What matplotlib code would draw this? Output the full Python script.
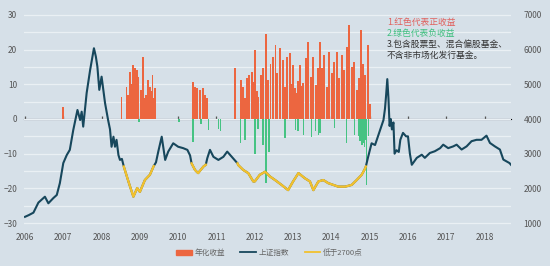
import numpy as np
import matplotlib
matplotlib.use("Agg")
import matplotlib.pyplot as plt
from matplotlib.patches import Patch
from matplotlib.lines import Line2D

plt.rcParams['font.family'] = ['Noto Sans CJK SC', 'DejaVu Sans']

# Shanghai composite index (date as decimal year, level)
idx_t = [2006.0, 2006.1, 2006.22, 2006.35, 2006.43, 2006.52, 2006.61, 2006.74, 2006.83,
         2006.91, 2007.0, 2007.09, 2007.17, 2007.26, 2007.37, 2007.44, 2007.48, 2007.52,
         2007.61, 2007.7, 2007.8, 2007.85, 2007.89, 2007.94, 2008.0, 2008.09, 2008.17,
         2008.22, 2008.26, 2008.31, 2008.35, 2008.39, 2008.44, 2008.48, 2008.53, 2008.58,
         2008.7, 2008.83, 2008.93, 2009.0, 2009.13, 2009.26, 2009.36, 2009.42, 2009.48,
         2009.57, 2009.66, 2009.74, 2009.87, 2010.0, 2010.13, 2010.24, 2010.31, 2010.35,
         2010.44, 2010.52, 2010.66, 2010.72, 2010.76, 2010.83, 2010.92, 2011.05, 2011.18,
         2011.28, 2011.4, 2011.51, 2011.55, 2011.57, 2011.7, 2011.83, 2011.96, 2012.0,
         2012.13, 2012.27, 2012.4, 2012.53, 2012.7, 2012.87, 2013.0, 2013.14, 2013.31,
         2013.44, 2013.53, 2013.66, 2013.79, 2013.92, 2014.05, 2014.18, 2014.36, 2014.53,
         2014.66, 2014.79, 2014.87, 2014.9, 2014.96, 2015.05, 2015.14, 2015.27, 2015.36,
         2015.4, 2015.43, 2015.46, 2015.49, 2015.52, 2015.55, 2015.58, 2015.62, 2015.65,
         2015.7, 2015.76, 2015.8, 2015.87, 2015.95, 2016.0, 2016.05, 2016.1, 2016.23,
         2016.36, 2016.44, 2016.57, 2016.7, 2016.84, 2016.92, 2017.05, 2017.18, 2017.27,
         2017.4, 2017.53, 2017.66, 2017.79, 2017.92, 2018.05, 2018.14, 2018.27, 2018.4,
         2018.49, 2018.57, 2018.65, 2018.69]
idx_v = [1180, 1230, 1300, 1590, 1670, 1760, 1570, 1720, 1810,
         2150, 2730, 2960, 3110, 3680, 4260, 3970, 4210, 3780,
         4750, 5410, 6040, 5800, 5510, 4840, 5220, 4460, 3970,
         3700, 3200, 3490, 3200, 3400, 2960, 2820, 2850, 2630,
         2200, 1760, 2010, 1900, 2240, 2390, 2640, 2750, 3060,
         3490, 2820, 3060, 3300, 3200, 3160, 3110, 2950, 2720,
         2530, 2440, 2630, 2680, 2870, 3110, 2910, 2820, 2910,
         3060, 2910, 2770, 2720, 2670, 2530, 2440, 2200, 2200,
         2390, 2480, 2340, 2240, 2100, 1950, 2200, 2440, 2290,
         2200, 1950, 2200, 2240, 2150, 2100, 2050, 2050, 2100,
         2240, 2390, 2550, 2630, 2910, 3300, 3250, 3680, 3970,
         4300, 4700, 5150, 4600, 3800, 4000, 3700, 3900, 3000,
         3100, 3050, 3400, 3600, 3500, 3500, 3000, 2680, 2880,
         2970, 2880, 3020, 3070, 3160, 3260, 3160, 3210, 3260,
         3120, 3210, 3360, 3400, 3400, 3520, 3310, 3210, 3120,
         2830, 2780, 2730, 2680]

# periods drawn in yellow (index under 2700)
low_periods = [(2008.55, 2009.4), (2010.33, 2010.74), (2011.55, 2014.91)]

# annualised return of funds, positive
pos_t = [2007.0,
         2008.52, 2008.65, 2008.69, 2008.74, 2008.78, 2008.81, 2008.84, 2008.87, 2008.92,
         2008.96, 2009.02, 2009.07, 2009.13, 2009.17, 2009.22, 2009.26, 2009.3, 2009.33,
         2009.36, 2009.39,
         2010.38, 2010.44, 2010.5, 2010.57, 2010.64, 2010.7, 2010.76,
         2011.48, 2011.63, 2011.7, 2011.74, 2011.8, 2011.86, 2011.92, 2011.96, 2012.0,
         2012.05, 2012.09, 2012.16, 2012.22, 2012.29, 2012.35, 2012.41, 2012.48, 2012.54,
         2012.59, 2012.66, 2012.73, 2012.79, 2012.85, 2012.92, 2012.96, 2013.0, 2013.05,
         2013.09, 2013.14, 2013.18, 2013.23, 2013.27, 2013.33, 2013.4, 2013.47, 2013.53,
         2013.59, 2013.64, 2013.7, 2013.76, 2013.81, 2013.88, 2013.94, 2014.01, 2014.08,
         2014.14, 2014.2, 2014.27, 2014.34, 2014.4, 2014.47, 2014.53, 2014.6, 2014.66,
         2014.72, 2014.77, 2014.83, 2014.88, 2014.95, 2015.0]
pos_v = [3.5,
         6.4, 9.3, 7.0, 13.6, 10.0, 15.6, 9.0, 14.6, 14.1,
         12.2, 8.4, 18.0, 6.0, 7.0, 11.2, 9.3, 8.0, 12.7,
         6.0, 8.9,
         10.8, 9.3, 8.9, 8.4, 8.9, 7.0, 6.0,
         14.6, 11.2, 9.3, 6.0, 11.7, 12.7, 13.6, 10.8, 19.9,
         8.0, 6.4, 12.7, 14.6, 24.5, 11.2, 16.0, 18.0, 21.3,
         13.2, 20.4, 17.0, 9.3, 18.0, 18.9, 10.0, 15.6, 9.0,
         7.4, 11.0, 15.6, 9.5, 10.3, 17.5, 22.3, 12.2, 18.0,
         9.8, 14.6, 22.3, 14.6, 18.4, 9.3, 19.4, 13.2, 16.5,
         19.4, 11.7, 18.4, 14.1, 20.8, 27.1, 15.1, 16.5, 8.4,
         11.7, 25.6, 16.0, 12.7, 21.3, 4.3]

# annualised return of funds, negative
neg_t = [2008.97, 2010.02, 2010.38, 2010.6, 2010.79, 2011.05, 2011.11, 2011.63, 2011.74,
         2012.0, 2012.09, 2012.22, 2012.29, 2012.37, 2012.79, 2013.06, 2013.13, 2013.27,
         2013.48, 2013.59, 2013.66, 2013.7, 2014.08, 2014.4, 2014.6, 2014.72, 2014.75,
         2014.8, 2014.83, 2014.86, 2014.89, 2014.92, 2014.97]
neg_v = [-1.0, -1.0, -6.5, -1.5, -3.2, -3.0, -3.6, -7.0, -6.0,
         -10.0, -3.0, -7.5, -18.5, -9.4, -5.5, -3.2, -3.6, -4.6,
         -5.3, -3.6, -4.6, -4.0, -2.7, -7.0, -4.6, -5.0, -6.2,
         -7.5, -7.0, -8.0, -6.0, -19.0, -5.0]

years = list(range(2006, 2019))
left_ticks = [30, 20, 10, 0, -10, -20, -30]
right_ticks = [7000, 6000, 5000, 4000, 3000, 2000, 1000]

notes = ["1.红色代表正收益", "2.绿色代表负收益", "3.包含股票型、混合偏股基金、", "不含非市场化发行基金。"]
note_colors = ['#e0605c', '#3fbf7f', '#333333', '#333333']
legend_labels = ["年化收益", "上证指数", "低于2700点"]

bg = '#d6e0e8'
orange = '#ec6640'
green = '#46c383'
navy = '#17475c'
yellow = '#f2c12e'

fig = plt.figure(figsize=(5.5, 2.66), dpi=100, facecolor=bg)
ax = fig.add_axes([24 / 550, 36 / 266, 487 / 550, 222 / 266])
ax.set_facecolor(bg)
ax.set_xlim(2005.974, 2018.69)
ax.set_ylim(-32, 32)

ax.bar(pos_t, pos_v, width=0.05, color=orange, linewidth=0, zorder=2)
ax.bar(neg_t, neg_v, width=0.04, color=green, linewidth=0, zorder=2)

ax.set_yticks(left_ticks)
ax.set_yticks(np.arange(-30, 31, 5), minor=True)
ax.grid(True, which='both', axis='y', color='#eaf0f4', lw=0.9, zorder=0)
ax.tick_params(axis='y', which='both', length=0, labelsize=6, colors='#555555', pad=5)
ax.set_xticks(years)
ax.tick_params(axis='x', length=0, labelsize=6, colors='#555555', pad=2)
for s in ax.spines.values():
    s.set_visible(False)

# zero line with year ticks
zx = ax.secondary_xaxis(0.5)
zx.set_xticks(years)
zx.set_xticklabels([])
zx.tick_params(axis='x', direction='out', length=2.5, width=0.9, colors='#555555')
zx.spines['bottom'].set_color('#5a5a5a')
zx.spines['bottom'].set_linewidth(1.3)

# index on the right axis
ax2 = ax.twinx()
ax2.set_ylim(800, 7200)
ax2.set_yticks(right_ticks)
ax2.tick_params(axis='y', length=0, labelsize=6, colors='#555555', pad=9)
for s in ax2.spines.values():
    s.set_visible(False)

t = np.array(idx_t)
v = np.array(idx_v, dtype=float)
ax2.plot(t, v, color=navy, lw=1.5, zorder=3)
for a, b in low_periods:
    m = (t >= a) & (t <= b)
    ax2.plot(t[m], v[m], color=yellow, lw=1.7, zorder=4)

ys = [22, 33, 44, 55]
for txt, c, y in zip(notes, note_colors, ys):
    fig.text(387 / 550, 1 - y / 266, txt, color=c, fontsize=6.3, va='center', ha='left')

handles = [Patch(color=orange), Line2D([], [], color=navy, lw=1.3), Line2D([], [], color=yellow, lw=1.3)]
leg = fig.legend(handles, legend_labels, loc='center', bbox_to_anchor=(0.49, 1 - 253 / 266),
                 ncol=3, frameon=False, fontsize=5.5, handlelength=2.0, handleheight=0.6,
                 columnspacing=2.0, handletextpad=0.4)
for tx in leg.get_texts():
    tx.set_color('#666666')

fig.savefig('out.png', dpi=100, facecolor=bg)
